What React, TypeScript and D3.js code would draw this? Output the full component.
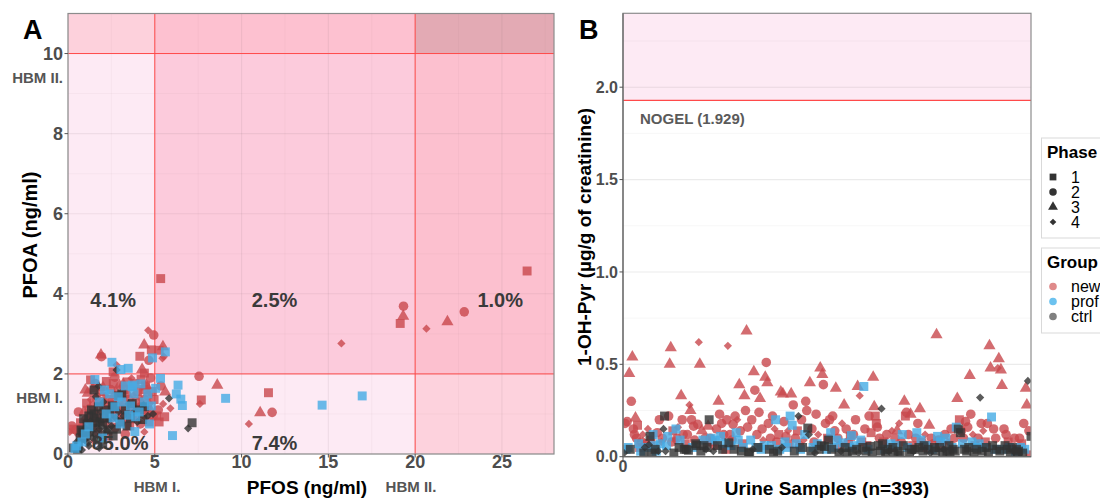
import React from "react";
import * as d3 from "d3";

// groups and phases
const groupNames = ["new", "prof", "ctrl"];
const groupColors = ["#c9484d", "#45ace6", "#333333"];
const legendColors = ["#df8a8a", "#6cc2ef", "#808080"];
const phaseNames = ["1", "2", "3", "4"];

// panel A: [PFOS, PFOA, phase]
const pfasNew = [
  [0.1, 0.55, 4], [0.22, 0.7, 2], [0.33, 0.62, 1], [0.46, 0.6, 2], [0.58, 0.48, 4], [0.72, 0.78, 1],
  [0.81, 0.66, 2], [0.92, 1.05, 3], [1.03, 0.86, 2], [1.07, 1.27, 1], [1.12, 0.58, 4], [1.14, 1.52, 3],
  [1.22, 1.12, 2], [1.28, 0.95, 1], [1.31, 1.36, 4], [1.38, 0.72, 2], [1.42, 1.62, 3], [1.47, 1.2, 1],
  [1.52, 0.9, 2], [1.57, 1.76, 2], [1.63, 1.05, 4], [1.66, 1.41, 1], [1.72, 0.55, 2], [1.77, 1.26, 3],
  [1.83, 1.0, 2], [1.86, 1.56, 1], [1.92, 0.8, 4], [1.97, 1.31, 2], [2.02, 1.66, 3], [2.06, 1.1, 1],
  [2.12, 0.95, 2], [2.16, 1.46, 4], [2.21, 1.81, 1], [2.27, 0.75, 2], [2.31, 1.21, 3], [2.37, 1.36, 1],
  [2.42, 1.0, 2], [2.46, 1.61, 2], [2.52, 0.85, 4], [2.57, 1.25, 1], [2.61, 1.76, 1], [2.66, 1.46, 3],
  [2.72, 0.66, 2], [2.76, 1.11, 2], [2.81, 1.56, 4], [2.86, 0.95, 1], [2.92, 1.31, 2], [2.96, 1.71, 3],
  [3.02, 1.16, 1], [3.06, 0.8, 2], [3.12, 1.41, 4], [3.16, 1.0, 2], [3.18, 1.74, 3], [3.22, 1.61, 1],
  [3.27, 1.26, 2], [3.31, 0.9, 3], [3.36, 1.5, 2], [3.41, 1.8, 1], [3.46, 1.1, 4], [3.51, 1.36, 2],
  [3.56, 0.7, 1], [3.62, 1.66, 3], [3.66, 1.89, 4], [3.67, 1.2, 2], [3.71, 0.95, 1], [3.76, 1.46, 4],
  [3.82, 1.05, 2], [3.86, 1.76, 1], [3.92, 1.31, 2], [3.96, 0.85, 3], [4.02, 1.56, 1], [4.06, 1.15, 2],
  [4.12, 1.41, 4], [4.16, 0.75, 2], [4.21, 1.86, 1], [4.26, 1.26, 3], [4.31, 1.0, 2], [4.36, 1.61, 1],
  [4.41, 1.36, 2], [4.46, 0.9, 4], [4.47, 1.7, 1], [4.51, 1.71, 3], [4.56, 1.1, 1], [4.61, 1.46, 2],
  [4.66, 0.8, 1], [4.71, 1.26, 4], [4.76, 1.9, 2], [4.81, 1.05, 3], [4.86, 1.56, 1], [4.91, 0.95, 2],
  [4.96, 1.36, 1], [0.9, 0.4, 2], [1.5, 0.32, 4], [2.3, 0.45, 1], [3.3, 0.5, 2], [4.4, 0.55, 4],
  [1.3, 1.85, 1], [2.7, 1.92, 2], [1.0, 1.6, 3], [0.6, 1.05, 2],
  [4.62, 3.09, 4], [4.94, 2.97, 2], [4.39, 2.72, 3], [4.66, 2.34, 2], [4.14, 2.44, 1], [1.9, 2.47, 3],
  [1.93, 2.43, 2], [2.8, 2.22, 4], [4.27, 2.11, 3], [4.4, 2.02, 1], [2.6, 2.05, 1], [4.8, 2.6, 1],
  [5.34, 4.38, 1], [5.47, 2.68, 3], [5.25, 2.59, 1], [5.52, 2.43, 4], [5.44, 2.39, 4], [15.75, 2.76, 4],
  [19.14, 3.26, 1], [19.31, 3.44, 3], [19.33, 3.69, 2],
  [20.65, 3.13, 4], [21.86, 3.3, 3], [22.83, 3.55, 2], [26.45, 4.57, 1],
  [7.55, 1.94, 2], [8.6, 1.72, 3], [7.68, 1.35, 1], [7.6, 1.25, 4], [11.55, 1.53, 1], [11.07, 1.03, 3],
  [11.76, 1.04, 2], [10.42, 0.75, 4], [5.9, 1.14, 4], [5.48, 1.25, 4], [5.57, 0.93, 1], [5.2, 1.1, 2],
  [5.1, 0.95, 1], [5.6, 1.55, 3], [5.25, 0.8, 1], [5.35, 1.7, 2],
];

const pfasProf = [
  [0.4, 0.14, 1], [0.5, 0.2, 1], [1.55, 1.86, 1], [2.1, 1.6, 1], [2.4, 1.5, 1], [2.9, 1.43, 1],
  [3.7, 1.68, 1], [3.8, 1.5, 1], [4.6, 1.5, 1], [3.9, 0.93, 1], [3.5, 0.97, 1], [3.85, 0.56, 1],
  [1.2, 0.68, 1], [2.7, 1.18, 1], [3.0, 0.75, 1], [3.72, 1.72, 1], [4.4, 1.3, 1], [4.8, 1.2, 1],
  [2.2, 1.0, 1], [1.8, 1.3, 1], [3.3, 1.7, 1], [4.2, 1.75, 1], [2.6, 0.9, 1], [1.0, 0.5, 1],
  [3.6, 1.2, 1], [4.7, 0.75, 1], [2.0, 0.4, 1], [0.8, 0.3, 1], [4.1, 1.05, 1], [3.1, 1.3, 1],
  [4.87, 2.4, 1], [2.53, 2.29, 1], [3.05, 2.11, 1], [3.47, 2.14, 1], [5.61, 2.55, 1],
  [5.33, 1.89, 1], [6.34, 1.72, 1], [5.05, 1.64, 1], [9.08, 1.39, 1], [6.24, 1.5, 1], [6.59, 1.21, 1],
  [6.5, 1.37, 1], [6.02, 0.46, 1], [14.64, 1.22, 1], [16.95, 1.45, 1],
];

const pfasCtrl = [
  [0.3, 0.15, 1], [0.5, 0.3, 4], [0.6, 0.2, 1], [0.7, 0.4, 1], [0.8, 0.1, 4], [0.85, 0.55, 1],
  [0.9, 0.88, 1], [0.95, 0.35, 4], [1.0, 0.65, 4], [1.05, 0.45, 1], [1.1, 0.75, 1], [1.15, 0.28, 4],
  [1.2, 0.95, 1], [1.25, 0.55, 1], [1.3, 0.82, 4], [1.35, 1.1, 1], [1.4, 0.4, 4], [1.45, 0.65, 1],
  [1.5, 1.0, 1], [1.55, 0.5, 4], [1.6, 0.78, 1], [1.6, 1.43, 4], [1.65, 0.9, 1], [1.7, 0.35, 1],
  [1.75, 1.18, 1], [1.8, 0.62, 4], [1.85, 0.8, 1], [1.9, 1.05, 4], [1.95, 0.48, 1], [2.0, 0.72, 1],
  [2.05, 1.3, 4], [2.1, 0.9, 1], [2.2, 1.1, 1], [2.25, 0.58, 4], [2.3, 0.6, 1], [2.35, 0.85, 4],
  [2.4, 1.0, 1], [2.5, 0.7, 4], [2.55, 1.2, 1], [2.6, 0.45, 1], [2.7, 1.18, 1], [2.75, 0.9, 4],
  [2.8, 0.62, 1], [2.9, 1.05, 4], [3.0, 0.8, 1], [3.1, 1.5, 1], [3.2, 0.95, 4], [3.3, 1.1, 1],
  [3.4, 0.7, 1], [3.5, 1.25, 4], [3.6, 0.9, 1], [3.7, 1.26, 1], [3.8, 1.05, 4], [4.0, 0.8, 4],
  [4.1, 1.1, 1], [4.3, 0.86, 1], [4.35, 1.22, 4], [4.4, 1.18, 1], [4.6, 0.95, 4], [4.9, 1.0, 4],
  [1.5, 1.6, 1], [1.76, 1.7, 4], [2.9, 1.45, 1], [0.55, 0.05, 1], [0.75, 0.6, 1], [1.2, 0.2, 4],
  [2.0, 0.25, 1], [1.8, 0.15, 4], [2.8, 2.1, 4],
  [5.82, 1.39, 4], [7.15, 0.78, 1], [6.92, 0.64, 4],
];

const quadrantLabels = [
  { text: "4.1%", x: 2.6, y: 3.85 },
  { text: "2.5%", x: 11.9, y: 3.85 },
  { text: "1.0%", x: 24.9, y: 3.85 },
  { text: "85.0%", x: 3.0, y: 0.28 },
  { text: "7.4%", x: 11.9, y: 0.28 },
];

// panel B: [sample, 1-OH-Pyr, phase]
const urineNew = [
  [2, .18, 2], [4, .19, 2], [6, .45, 3], [8, .3, 2], [9, .54, 3], [10, .15, 2], [11, .12, 2], [12, .21, 3], [13, .1, 2], [14, .17, 1], [16, .05, 1], [18, .08, 2], [19, .12, 4],
  [22, .07, 2], [24, .15, 4], [27, .09, 1], [33, .13, 2], [35, .2, 2], [37, .08, 4], [38, .1, 2],
  [44, .22, 2], [45, .5, 3], [46, .59, 3], [47, .08, 2], [48, .14, 1], [50, .09, 4], [52, .1, 2], [53, .16, 4], [56, .33, 3], [57, .2, 2], [58, .12, 2], [60, .07, 1],
  [62, .12, 2], [64, .28, 4], [65, .25, 3], [66, .2, 2], [68, .165, 2], [69, .09, 2], [72, .175, 2], [73, .62, 4], [74, .5, 3], [76, .14, 3], [79, .1, 2],
  [82, .165, 3], [84, .1, 2], [86, .08, 1], [88, .06, 2], [90, .15, 2], [92, .3, 3], [93, .23, 2], [95, .18, 2], [97, .12, 2], [99, .04, 1], [100, .2, 2],
  [101, .6, 4], [103, .12, 2], [105, .09, 2], [106, .175, 2], [108, .22, 2], [110, .2, 4], [112, .39, 3], [113, .14, 2], [115, .07, 1], [117, .33, 3], [118, .25, 2], [119, .68, 3], [120, .16, 2],
  [124, .2, 2], [126, .46, 3], [127, .36, 2], [129, .12, 2], [131, .24, 2], [132, .315, 3], [134, .15, 2], [135, .09, 4], [137, .43, 3], [138, .51, 2], [139, .4, 3], [140, .18, 2],
  [142, .1, 2], [144, .22, 2], [146, .15, 4], [148, .08, 2], [150, .12, 1], [152, .35, 3], [154, .34, 3], [155, .19, 2], [157, .11, 2], [159, .14, 4], [160, .07, 1],
  [162, .34, 3], [164, .28, 2], [166, .1, 2], [168, .14, 1], [170, .06, 2], [172, .2, 2], [174, .09, 4], [176, .3, 2], [177, .25, 2], [180, .4, 3],
  [182, .15, 2], [184, .08, 2], [186, .23, 2], [188, .12, 4], [190, .48, 3], [192, .445, 3], [193, .39, 2], [195, .18, 2], [197, .1, 1], [199, .2, 2],
  [202, .22, 2], [204, .14, 2], [205, .37, 3], [207, .1, 2], [209, .06, 2], [211, .18, 4], [213, .28, 3], [215, .15, 2], [217, .08, 2], [219, .11, 1],
  [222, .12, 2], [224, .2, 2], [226, .38, 3], [228, .33, 4], [230, .08, 1], [233, .15, 2], [235, .06, 1], [237, .22, 2], [239, .13, 1],
  [241, .43, 3], [242, .27, 3], [243, .22, 1], [244, .18, 1], [245, .16, 2], [247, .1, 2], [251, .08, 1], [254, .12, 2], [257, .05, 1], [259, .14, 4],
  [262, .1, 2], [264, .14, 3], [266, .18, 4], [268, .08, 2], [271, .3, 3], [272, .22, 1], [273, .24, 2], [275, .12, 2], [277, .23, 3], [279, .06, 1],
  [282, .1, 2], [284, .18, 2], [286, .26, 3], [288, .08, 2], [291, .12, 4], [293, .05, 1], [295, .17, 3], [297, .1, 2], [299, .07, 2],
  [302, .66, 3], [304, .09, 2], [307, .06, 1], [310, .12, 2], [313, .08, 4], [316, .15, 2], [319, .1, 2],
  [322, .315, 3], [324, .2, 1], [326, .14, 2], [328, .1, 2], [330, .19, 2], [332, .16, 2], [334, .44, 3], [335, .23, 2], [337, .12, 4], [339, .06, 1],
  [342, .1, 2], [345, .18, 2], [347, .14, 4], [349, .08, 1], [351, .18, 2], [353, .6, 3], [354, .48, 3], [357, .15, 2], [359, .1, 2],
  [361, .48, 4], [362, .53, 3], [364, .47, 3], [365, .385, 3], [367, .15, 2], [369, .12, 2], [371, .08, 1], [374, .05, 2], [377, .1, 2],
  [382, .1, 2], [384, .07, 1], [386, .18, 2], [388, .37, 3], [389, .28, 3], [391, .14, 2], [392, .01, 1],
];

const urineProf = [
  [3, .04, 1], [5, .05, 1], [15, .07, 1], [17, .03, 1], [23, .05, 1], [29, .12, 1], [30, .06, 1], [32, .03, 1], [36, .07, 1],
  [42, .06, 1], [43, .11, 1], [51, .15, 1], [55, .09, 1], [67, .05, 1], [77, .09, 1], [85, .1, 1], [89, .09, 1], [94, .11, 1], [98, .07, 1],
  [104, .06, 1], [109, .13, 1], [111, .09, 1], [116, .05, 1], [123, .09, 1], [128, .05, 1], [133, .04, 1], [136, .06, 1],
  [143, .06, 1], [147, .2, 1], [151, .04, 1], [156, .08, 1], [158, .05, 1], [161, .22, 1], [163, .17, 1], [167, .07, 1], [171, .04, 1], [175, .12, 1],
  [183, .05, 1], [187, .07, 1], [196, .04, 1], [200, .13, 1], [203, .05, 1], [206, .09, 1], [212, .075, 1], [218, .05, 1], [220, .114, 1],
  [223, .06, 1], [229, .09, 1], [232, .38, 1], [236, .04, 1], [252, .04, 1], [258, .07, 1], [263, .06, 1], [269, .12, 1], [274, .05, 1],
  [283, .13, 1], [287, .09, 1], [292, .06, 1], [298, .04, 1], [303, .11, 1], [306, .08, 1], [311, .1, 1], [317, .05, 1],
  [321, .16, 1], [327, .07, 1], [336, .08, 1], [340, .05, 1], [343, .07, 1], [348, .05, 1], [355, .215, 1], [358, .04, 1],
  [366, .04, 1], [372, .05, 1], [378, .03, 1], [383, .05, 1], [387, .04, 1],
];

const urineCtrl = [
  [1, .02, 4], [7, .04, 1], [20, .02, 1], [21, .05, 4], [25, .065, 4], [26, .11, 1], [28, .02, 1], [31, .04, 1], [34, .03, 4], [39, .15, 4], [40, .22, 1],
  [41, .03, 4], [49, .02, 1], [54, .05, 1], [59, .04, 1], [61, .04, 1], [63, .035, 1], [70, .07, 1], [71, .06, 1], [75, .03, 1], [78, .06, 1], [80, .04, 4],
  [81, .05, 1], [83, .2, 1], [87, .03, 4], [91, .06, 1], [96, .04, 1], [102, .075, 1], [107, .04, 1], [114, .03, 1],
  [121, .025, 1], [122, .02, 1], [125, .04, 4], [130, .05, 1], [141, .04, 1], [145, .02, 1], [149, .03, 1], [153, .05, 4],
  [165, .03, 1], [169, .22, 4], [173, .05, 1], [178, .155, 1], [179, .12, 4], [181, .03, 1], [185, .02, 4], [189, .04, 1], [191, .06, 1], [194, .055, 1], [198, .09, 1],
  [201, .04, 1], [208, .02, 1], [210, .03, 4], [214, .05, 1], [216, .02, 1], [221, .03, 1], [225, .04, 1], [227, .02, 4], [231, .05, 1], [234, .03, 1], [238, .056, 1], [240, .02, 1],
  [246, .06, 1], [248, .03, 1], [249, .26, 4], [250, .07, 1], [253, .02, 1], [255, .04, 1], [256, .03, 4], [260, .05, 1],
  [261, .02, 1], [265, .03, 1], [267, .01, 1], [270, .06, 1], [276, .02, 1], [278, .04, 1], [280, .03, 4],
  [281, .04, 1], [285, .05, 1], [289, .03, 1], [290, .06, 1], [294, .04, 1], [296, .02, 4], [300, .05, 1],
  [301, .03, 1], [305, .05, 1], [308, .02, 1], [309, .04, 4], [312, .03, 1], [314, .06, 1], [315, .02, 1], [318, .04, 1], [320, .03, 1],
  [323, .15, 1], [325, .13, 1], [329, .04, 1], [331, .03, 1], [333, .05, 1], [338, .02, 1],
  [341, .04, 1], [344, .32, 4], [346, .03, 1], [350, .05, 1], [352, .02, 1], [356, .06, 1], [360, .04, 1],
  [363, .03, 1], [368, .06, 1], [370, .04, 1], [373, .02, 1], [375, .05, 1], [376, .03, 4], [379, .04, 1], [380, .02, 1],
  [381, .03, 1], [385, .02, 1], [390, .41, 4], [393, .11, 1],
];

const FONT = "'Liberation Sans', Arial, Helvetica, sans-serif";
const TICK = "#4d4d4d";

const symbols = [
  d3.symbol(d3.symbolSquare, 80)(),
  d3.symbol(d3.symbolCircle, 72)(),
  d3.symbol(d3.symbolTriangle, 64)(),
  d3.symbol(d3.symbolSquare, 34)(),
];
const legendSymbols = [
  d3.symbol(d3.symbolSquare, 46)(),
  d3.symbol(d3.symbolCircle, 44)(),
  d3.symbol(d3.symbolTriangle, 42)(),
  d3.symbol(d3.symbolSquare, 22)(),
];

function Mark({ x, y, phase, fill, legend = false }) {
  const rot = phase === 4 ? " rotate(45)" : "";
  const d = (legend ? legendSymbols : symbols)[phase - 1];
  return <path d={d} transform={`translate(${x},${y})${rot}`} fill={fill} />;
}

function PanelA() {
  const b = { left: 68, right: 554, top: 13.5, bottom: 454 };
  const x = d3.scaleLinear().domain([0, 28]).range([b.left, b.right]);
  const y = d3.scaleLinear().domain([0, 11]).range([b.bottom, b.top]);
  const xb = [0, 5, 20, 28];
  const yb = [0, 2, 10, 11];
  const cellColors = [
    ["#fdeaf4", "#fdeaf4", "#fdd2dd"],
    ["#fdeaf4", "#fccbdc", "#fcc0cf"],
    ["#fdd1dc", "#fdc1d0", "#e3aab4"],
  ];
  const xMajor = d3.range(0, 28.1, 5);
  const xMinor = d3.range(2.5, 28, 5);
  const yMajor = d3.range(0, 11.1, 2);
  const yMinor = d3.range(1, 11.1, 2);
  const groups = [pfasNew, pfasCtrl, pfasProf];
  const colorIdx = [0, 2, 1];
  return (
    <g>
      <defs>
        <clipPath id="clipA">
          <rect x={b.left} y={b.top} width={b.right - b.left} height={b.bottom - b.top} />
        </clipPath>
      </defs>
      {cellColors.map((row, ri) =>
        row.map((c, ci) => (
          <rect key={`c${ri}${ci}`} x={x(xb[ci])} y={y(yb[ri + 1])} width={x(xb[ci + 1]) - x(xb[ci])}
            height={y(yb[ri]) - y(yb[ri + 1])} fill={c} />
        ))
      )}
      {xMinor.map((v) => <line key={`xm${v}`} x1={x(v)} x2={x(v)} y1={b.top} y2={b.bottom} stroke="rgba(120,100,110,0.07)" strokeWidth={0.7} />)}
      {yMinor.map((v) => <line key={`ym${v}`} y1={y(v)} y2={y(v)} x1={b.left} x2={b.right} stroke="rgba(120,100,110,0.07)" strokeWidth={0.7} />)}
      {xMajor.map((v) => <line key={`xM${v}`} x1={x(v)} x2={x(v)} y1={b.top} y2={b.bottom} stroke="rgba(120,100,110,0.10)" strokeWidth={1.1} />)}
      {yMajor.map((v) => <line key={`yM${v}`} y1={y(v)} y2={y(v)} x1={b.left} x2={b.right} stroke="rgba(120,100,110,0.10)" strokeWidth={1.1} />)}
      {[5, 20].map((v) => <line key={`rx${v}`} x1={x(v)} x2={x(v)} y1={b.top} y2={b.bottom} stroke="#ff4a4a" strokeWidth={1} />)}
      {[2, 10].map((v) => <line key={`ry${v}`} y1={y(v)} y2={y(v)} x1={b.left} x2={b.right} stroke="#ff4a4a" strokeWidth={1} />)}
      <g clipPath="url(#clipA)">
        {groups.map((g, gi) =>
          g.map((p, i) => (
            <g key={`a${gi}-${i}`} opacity={0.8}>
              <Mark x={x(p[0])} y={y(p[1])} phase={p[2]} fill={groupColors[colorIdx[gi]]} />
            </g>
          ))
        )}
      </g>
      {quadrantLabels.map((q) => (
        <text key={q.text} x={x(q.x)} y={y(q.y)} dy="0.36em" textAnchor="middle" fontSize={20}
          fontWeight="bold" fill="#3a3a3a" fontFamily={FONT}>{q.text}</text>
      ))}
      <rect x={b.left} y={b.top} width={b.right - b.left} height={b.bottom - b.top} fill="none" stroke="#8c8c8c" strokeWidth={1.2} />
      {yMajor.map((v) => (
        <g key={`yt${v}`}>
          <line x1={b.left - 3.5} x2={b.left} y1={y(v)} y2={y(v)} stroke="#555" />
          <text x={b.left - 5} y={y(v)} dy="0.36em" textAnchor="end" fontSize={18} fontWeight="bold" fill={TICK} fontFamily={FONT}>{v}</text>
        </g>
      ))}
      {xMajor.map((v) => (
        <g key={`xt${v}`}>
          <line x1={x(v)} x2={x(v)} y1={b.bottom} y2={b.bottom + 3.5} stroke="#555" />
          <text x={x(v)} y={468} textAnchor="middle" fontSize={18} fontWeight="bold" fill={TICK} fontFamily={FONT}>{v}</text>
        </g>
      ))}
      <text x={63} y={83} textAnchor="end" fontSize={15} fontWeight="bold" fill="#555" fontFamily={FONT}>HBM II.</text>
      <text x={63} y={403} textAnchor="end" fontSize={15} fontWeight="bold" fill="#555" fontFamily={FONT}>HBM I.</text>
      <text x={157} y={492} textAnchor="middle" fontSize={15} fontWeight="bold" fill="#555" fontFamily={FONT}>HBM I.</text>
      <text x={411} y={492} textAnchor="middle" fontSize={15} fontWeight="bold" fill="#555" fontFamily={FONT}>HBM II.</text>
      <text x={307} y={494} textAnchor="middle" fontSize={19} fontWeight="bold" fill="#000" fontFamily={FONT}>PFOS (ng/ml)</text>
      <text transform="translate(37,235) rotate(-90)" textAnchor="middle" fontSize={20} fontWeight="bold" fill="#000" fontFamily={FONT}>PFOA (ng/ml)</text>
      <text x={23} y={39} fontSize={27} fontWeight="bold" fill="#000" fontFamily={FONT}>A</text>
    </g>
  );
}

function PanelB() {
  const b = { left: 623, right: 1031, top: 13.3, bottom: 456.7 };
  const x = d3.scaleLinear().domain([0, 393]).range([b.left, b.right]);
  const y = d3.scaleLinear().domain([0, 2.4]).range([b.bottom, b.top]);
  const nogel = 1.929;
  const yMajor = [0, 0.5, 1, 1.5, 2];
  const yMinor = [0.25, 0.75, 1.25, 1.75, 2.25];
  const groups = [urineNew, urineProf, urineCtrl];
  return (
    <g>
      <defs>
        <clipPath id="clipB">
          <rect x={b.left} y={b.top} width={b.right - b.left} height={b.bottom - b.top} />
        </clipPath>
      </defs>
      <rect x={b.left} y={b.top} width={b.right - b.left} height={b.bottom - b.top} fill="#fff" />
      <rect x={b.left} y={b.top} width={b.right - b.left} height={y(nogel) - b.top} fill="#fdeaf4" />
      {yMinor.map((v) => <line key={`m${v}`} x1={b.left} x2={b.right} y1={y(v)} y2={y(v)} stroke="rgba(0,0,0,0.05)" strokeWidth={0.7} />)}
      {yMajor.map((v) => <line key={`M${v}`} x1={b.left} x2={b.right} y1={y(v)} y2={y(v)} stroke="rgba(0,0,0,0.08)" strokeWidth={1.1} />)}
      <line x1={b.left} x2={b.right} y1={y(nogel)} y2={y(nogel)} stroke="#ff4a4a" strokeWidth={1.2} />
      <text x={640} y={124} fontSize={15} fontWeight="bold" fill="#5a5a5a" fontFamily={FONT}>NOGEL (1.929)</text>
      <g clipPath="url(#clipB)">
        {groups.map((g, gi) =>
          g.map((p, i) => (
            <g key={`b${gi}-${i}`} opacity={0.8}>
              <Mark x={x(p[0])} y={y(p[1])} phase={p[2]} fill={groupColors[gi]} />
            </g>
          ))
        )}
      </g>
      <rect x={b.left} y={b.top} width={b.right - b.left} height={b.bottom - b.top} fill="none" stroke="#8c8c8c" strokeWidth={1.2} />
      <line x1={b.left} x2={b.left} y1={b.top} y2={b.bottom} stroke="#666" strokeWidth={1.2} />
      <line x1={b.left} x2={b.right} y1={b.bottom} y2={b.bottom} stroke="#666" strokeWidth={1.2} />
      {yMajor.map((v) => (
        <g key={`t${v}`}>
          <line x1={b.left - 3.5} x2={b.left} y1={y(v)} y2={y(v)} stroke="#555" />
          <text x={b.left - 5} y={y(v)} dy="0.36em" textAnchor="end" fontSize={16} fontWeight="bold" fill={TICK} fontFamily={FONT}>{d3.format(".1f")(v)}</text>
        </g>
      ))}
      <line x1={x(0)} x2={x(0)} y1={b.bottom} y2={b.bottom + 3.5} stroke="#555" />
      <text x={x(0)} y={472} textAnchor="middle" fontSize={16} fontWeight="bold" fill={TICK} fontFamily={FONT}>0</text>
      <text x={(b.left + b.right) / 2} y={495} textAnchor="middle" fontSize={19} fontWeight="bold" fill="#000" fontFamily={FONT}>Urine Samples (n=393)</text>
      <text transform="translate(591,237) rotate(-90)" textAnchor="middle" fontSize={19} fontWeight="bold" fill="#000" fontFamily={FONT}>1-OH-Pyr (µg/g of creatinine)</text>
      <text x={579} y={39} fontSize={27} fontWeight="bold" fill="#000" fontFamily={FONT}>B</text>
    </g>
  );
}

function Legend() {
  return (
    <g fontFamily={FONT}>
      <rect x={1041.5} y={138} width={80} height={100} fill="#fff" stroke="#d9d9d9" />
      <text x={1047} y={158} fontSize={17} fontWeight="bold" fill="#000">Phase</text>
      {phaseNames.map((p, i) => (
        <g key={p}>
          <Mark x={1053} y={177 + 15 * i} phase={i + 1} fill="#333" legend />
          <text x={1071} y={177 + 15 * i} dy="0.36em" fontSize={16} fill="#000">{p}</text>
        </g>
      ))}
      <rect x={1041.5} y={248} width={80} height={85} fill="#fff" stroke="#d9d9d9" />
      <text x={1047} y={268} fontSize={17} fontWeight="bold" fill="#000">Group</text>
      {groupNames.map((g, i) => (
        <g key={g}>
          <circle cx={1053} cy={286.5 + 15 * i} r={3.8} fill={legendColors[i]} />
          <text x={1071} y={286.5 + 15 * i} dy="0.36em" fontSize={16} fill="#000">{g}</text>
        </g>
      ))}
    </g>
  );
}

export default function App() {
  return (
    <svg width={1100} height={498} style={{ position: "absolute", left: 0, top: 0, display: "block" }}>
      <rect width={1100} height={498} fill="#fff" />
      <PanelA />
      <PanelB />
      <Legend />
    </svg>
  );
}
